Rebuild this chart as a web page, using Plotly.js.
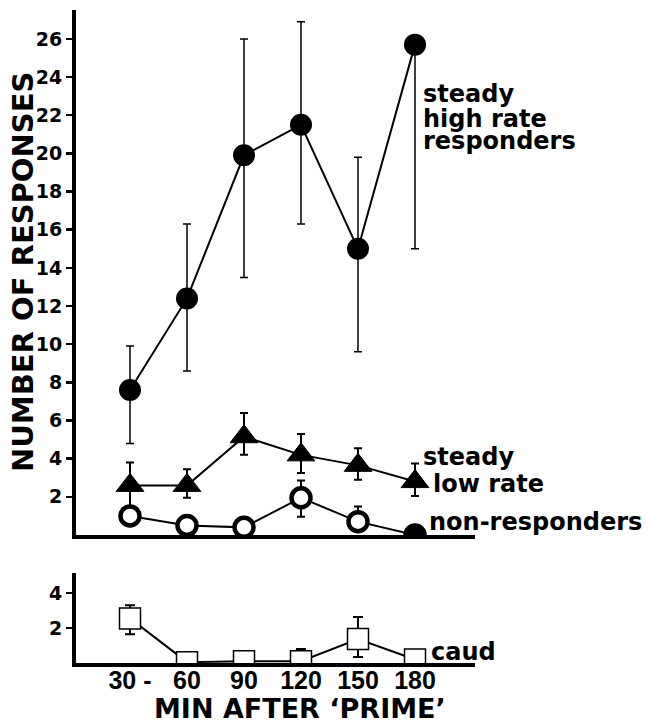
<!DOCTYPE html>
<html><head><meta charset="utf-8">
<script src="https://cdn.plot.ly/plotly-3.0.1.min.js"></script>
<style>html,body{margin:0;padding:0;background:#fff;}#chart{width:648px;height:723px;}</style>
</head><body><div id="chart"></div>
<script>
// ---- data ----
const minutes = [30, 60, 90, 120, 150, 180];
const tickLabels = ['30 -', '60', '90', '120', '150', '180'];

const highRate      = [7.6, 12.4, 19.9, 21.5, 15.0, 25.7];
const highRatePlus  = [2.3, 3.9, 6.1, 5.4, 4.8, 0];
const highRateMinus = [2.8, 3.8, 6.4, 5.2, 5.4, 10.7];

const lowRate      = [2.6, 2.6, 5.15, 4.2, 3.65, 2.8];
const lowRatePlus  = [1.2, 0.85, 1.25, 1.1, 0.9, 0.95];
const lowRateMinus = [1.2, 0.65, 0.95, 0.95, 0.75, 0.75];

const nonResp      = [1.0, 0.5, 0.4, 1.95, 0.7, 0];
const nonRespPlus  = [0, 0, 0, 0.9, 0.8, 0];
const nonRespMinus = [0, 0, 0, 1.0, 0, 0];

const caud      = [2.55, 0.05, 0.1, 0.1, 1.37, 0.2];
const caudPlus  = [0.75, 0, 0, 0.7, 1.26, 0];
const caudMinus = [0.9, 0, 0, 0, 1.03, 0];

const topTicks = [2, 4, 6, 8, 10, 12, 14, 16, 18, 20, 22, 24, 26];
const bottomTicks = [2, 4];

const yTitle = 'NUMBER OF RESPONSES';
const xTitle = 'MIN AFTER \u2018PRIME\u2019';
const seriesLabels = {
  high: ['steady', 'high rate', 'responders'],
  low: ['steady', 'low rate'],
  non: ['non-responders'],
  caud: ['caud']
};

// ---- layout geometry (pixels) ----
const W = 648, H = 723;
const L = 76, R = 173, T = 10, B = 60;
const plotW = W - L - R, plotH = H - T - B;
const px2x = p => (p - L) / plotW;
const py2y = p => (H - B - p) / plotH;

const bold = (size, family) => ({family: family || 'DejaVu Sans', size: size, color: '#000', weight: 'bold'});

function errs(plus, minus, thick, w) {
  return {type: 'data', symmetric: false, array: plus, arrayminus: minus,
          color: '#000', thickness: thick, width: w, visible: true};
}

const traces = [
  {x: minutes, y: highRate, xaxis: 'x2', yaxis: 'y2', mode: 'lines+markers',
   line: {color: '#000', width: 2},
   marker: {symbol: 'circle', size: 22, color: '#000'},
   error_y: errs(highRatePlus, highRateMinus, 1.5, 4)},
  {x: minutes, y: lowRate, xaxis: 'x2', yaxis: 'y2', mode: 'lines+markers',
   line: {color: '#000', width: 2},
   marker: {symbol: 'triangle-up', size: 24, color: '#000', line: {color: '#000', width: 1}},
   error_y: errs(lowRatePlus, lowRateMinus, 2, 4)},
  {x: minutes, y: nonResp, xaxis: 'x2', yaxis: 'y2', mode: 'lines+markers',
   line: {color: '#000', width: 2},
   marker: {symbol: 'circle', size: 19, color: ['#fff', '#fff', '#fff', '#fff', '#fff', '#000'],
            line: {color: '#000', width: 4.5}},
   error_y: errs(nonRespPlus, nonRespMinus, 2, 4)},
  {x: minutes, y: caud, xaxis: 'x', yaxis: 'y', mode: 'lines+markers',
   line: {color: '#000', width: 2},
   marker: {symbol: 'square', size: 21, color: '#fff', line: {color: '#000', width: 1.5}},
   error_y: errs(caudPlus, caudMinus, 2, 5)}
];

const topBottomPx = 535, botTopPx = 573;
const yTopDomainLow = py2y(topBottomPx);
const yBotDomainHigh = py2y(botTopPx);
const pxPerMin = 1.9;
const xMin = 30 - (130 - L) / pxPerMin;
const xMax = xMin + plotW / pxPerMin;

const commonX = {range: [xMin, xMax], showgrid: false, zeroline: false, showline: true,
                 linecolor: '#000', linewidth: 4, ticks: '', ticklen: 0, fixedrange: true};
const commonY = {showgrid: false, zeroline: false, showline: true, linecolor: '#000', linewidth: 4,
                 ticks: 'outside', ticklen: 6, tickwidth: 2.5, tickcolor: '#000',
                 tickfont: bold(19), fixedrange: true};

const annotations = [];
function label(text, xPx, baselinePx, size) {
  annotations.push({text: text, xref: 'paper', yref: 'paper', x: px2x(xPx), y: py2y(baselinePx - 0.346 * size),
                    xanchor: 'left', yanchor: 'middle', showarrow: false, font: bold(size)});
}
label(seriesLabels.high[0], 421, 102, 24);
label(seriesLabels.high[1], 421, 127, 24);
label(seriesLabels.high[2], 421, 149, 24);
label(seriesLabels.low[0], 421, 465, 24);
label(seriesLabels.low[1], 431, 492, 24);
label(seriesLabels.non[0], 427, 530, 24);
label(seriesLabels.caud[0], 429, 660, 24);

annotations.push({text: yTitle, xref: 'paper', yref: 'paper', x: px2x(23), y: py2y(272),
                  xanchor: 'center', yanchor: 'middle', textangle: -90, showarrow: false, font: bold(29)});
annotations.push({text: xTitle, xref: 'paper', yref: 'paper', x: px2x(152), y: py2y(718 - 0.346 * 27),
                  xanchor: 'left', yanchor: 'middle', showarrow: false, font: bold(27)});

const layout = {
  width: W, height: H,
  margin: {l: L, r: R, t: T, b: B, pad: 0},
  paper_bgcolor: '#fff', plot_bgcolor: '#fff',
  showlegend: false,
  xaxis: Object.assign({}, commonX, {anchor: 'y', tickvals: minutes, ticktext: tickLabels,
                       showticklabels: true, ticklabelstandoff: -8,
                       tickfont: bold(25, 'Liberation Sans')}),
  xaxis2: Object.assign({}, commonX, {anchor: 'y2', showticklabels: false}),
  yaxis: Object.assign({}, commonY, {anchor: 'x', domain: [0, yBotDomainHigh],
                       range: [0, (H - B - botTopPx) / 17.5], tickvals: bottomTicks}),
  yaxis2: Object.assign({}, commonY, {anchor: 'x2', domain: [yTopDomainLow, 1],
                        range: [0, (topBottomPx - T) / 19.08], tickvals: topTicks}),
  annotations: annotations
};

Plotly.newPlot('chart', traces, layout, {displayModeBar: false, staticPlot: true});
</script>
</body></html>
